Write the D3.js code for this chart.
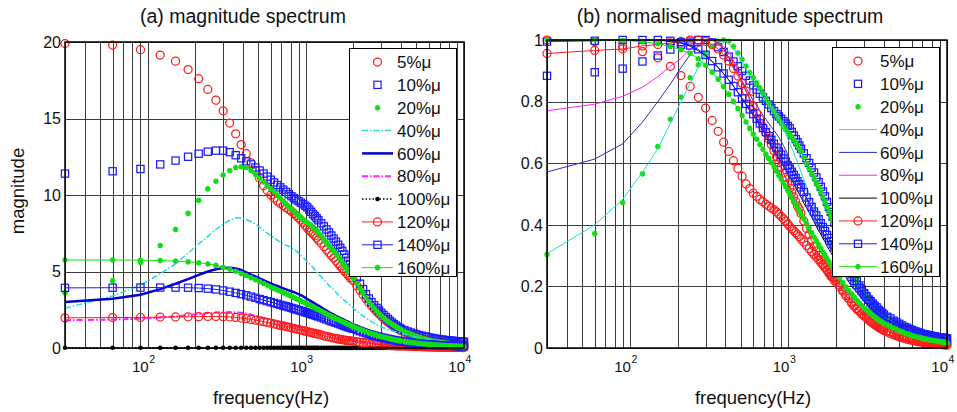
<!DOCTYPE html>
<html><head><meta charset="utf-8">
<script src="https://cdn.jsdelivr.net/npm/d3@7"></script>
<style>body{margin:0;background:#fff}svg{display:block;font-family:"Liberation Sans",Arial,Helvetica,sans-serif}</style>
</head><body><svg id="chart" width="957" height="412"></svg>
<script>
// ---------------- data ----------------
const freqs = [30,60,90,120,150,180,210,240,270,300,330,360,390,420,450,480,510,540,570,600,
  630,660,690,720,750,780,810,840,870,900,930,960,990,1020,1050,1080,1110,1140,1170,1200,
  1250,1300,1350,1400,1450,1500,1550,1600,1650,1700,1750,1800,1850,1900,1950,2000,
  2100,2200,2300,2400,2500,2600,2700,2800,2900,3000,3100,3200,3300,3400,3500,3600,3700,3800,3900,4000,
  4200,4400,4600,4800,5000,5200,5400,5600,5800,6000,6200,6400,6600,6800,7000,7200,7400,7600,7800,8000,8200,8400,8600,8800,9000,9200,9400,9600,9800,10000];

const mag5 = [19.9,19.8,19.5,19.15,18.75,18.2,17.6,16.9,16.2,15.5,14.7,14.0,13.3,12.7,12.1,11.6,11.1,10.6,10.3,10.0,
  9.8,9.6,9.45,9.3,9.17,9.05,8.93,8.8,8.65,8.5,8.35,8.2,8.02,7.85,7.7,7.58,7.45,7.33,7.2,7.05,
  6.85,6.63,6.42,6.22,6.05,5.88,5.7,5.52,5.36,5.2,5.05,4.9,4.75,4.61,4.5,4.4,
  4.07,3.77,3.48,3.22,2.98,2.76,2.56,2.38,2.22,2.07,1.94,1.81,1.7,1.6,1.5,1.42,1.34,1.26,1.19,1.13,
  1.03,0.94,0.86,0.79,0.72,0.67,0.62,0.57,0.53,0.5,0.47,0.44,0.41,0.39,0.37,0.35,0.33,0.31,0.3,0.28,0.27,0.26,0.25,0.24,0.23,0.22,0.21,0.2,0.19,0.18];
const mag10 = [11.4,11.55,11.7,12.0,12.25,12.5,12.7,12.83,12.9,12.9,12.8,12.6,12.4,12.2,12.0,11.8,11.6,11.4,11.2,11.0,
  10.82,10.65,10.5,10.35,10.2,10.05,9.92,9.8,9.7,9.6,9.5,9.4,9.3,9.2,9.05,8.9,8.75,8.62,8.48,8.35,
  8.15,7.95,7.75,7.55,7.35,7.15,6.95,6.75,6.55,6.35,6.12,5.9,5.7,5.5,5.25,5.0,
  4.6,4.2,3.85,3.52,3.24,3.0,2.8,2.62,2.45,2.3,2.16,2.02,1.9,1.78,1.66,1.56,1.47,1.39,1.32,1.25,
  1.16,1.08,1.01,0.95,0.89,0.84,0.8,0.76,0.72,0.69,0.66,0.63,0.61,0.59,0.57,0.55,0.53,0.52,0.5,0.49,0.48,0.47,0.46,0.45,0.44,0.43,0.42,0.42,0.41,0.4];
const mag20 = [3.6,4.4,5.6,6.7,7.75,8.8,9.65,10.4,10.9,11.3,11.6,11.8,11.85,11.8,11.6,11.35,11.1,10.85,10.6,10.4,
  10.2,10.0,9.8,9.6,9.42,9.25,9.1,8.95,8.8,8.65,8.52,8.4,8.3,8.2,8.1,8.01,7.91,7.8,7.68,7.55,
  7.33,7.1,6.9,6.7,6.52,6.35,6.18,6.0,5.8,5.6,5.42,5.25,5.07,4.9,4.72,4.55,
  4.22,3.9,3.6,3.3,3.04,2.8,2.6,2.42,2.25,2.1,1.97,1.85,1.74,1.65,1.56,1.48,1.4,1.33,1.26,1.2,
  1.09,1.0,0.92,0.84,0.77,0.71,0.65,0.6,0.56,0.52,0.49,0.46,0.43,0.4,0.38,0.36,0.35,0.33,0.32,0.3,0.29,0.28,0.27,0.26,0.25,0.24,0.23,0.22,0.22,0.21];
const mag40 = [2.6,3.4,4.1,4.85,5.5,6.2,6.8,7.3,7.75,8.1,8.35,8.5,8.5,8.4,8.25,8.1,7.9,7.7,7.5,7.35,
  7.2,7.05,6.92,6.8,6.72,6.65,6.55,6.45,6.33,6.2,6.06,5.92,5.78,5.65,5.52,5.39,5.26,5.13,4.99,4.85,
  4.65,4.45,4.27,4.1,3.95,3.8,3.65,3.5,3.37,3.25,3.12,3.0,2.9,2.8,2.7,2.6,
  2.42,2.25,2.1,1.95,1.83,1.72,1.62,1.52,1.45,1.38,1.32,1.27,1.22,1.17,1.13,1.1,1.06,1.02,0.99,0.95,
  0.9,0.85,0.8,0.76,0.72,0.68,0.65,0.62,0.59,0.56,0.54,0.51,0.49,0.47,0.45,0.44,0.42,0.41,0.39,0.38,0.37,0.36,0.35,0.34,0.33,0.32,0.32,0.31,0.3,0.3];
const mag60 = [3.0,3.22,3.48,3.85,4.2,4.5,4.78,5.0,5.15,5.22,5.25,5.2,5.1,4.95,4.8,4.68,4.55,4.43,4.32,4.22,
  4.13,4.05,3.97,3.9,3.83,3.77,3.71,3.65,3.59,3.52,3.45,3.38,3.29,3.2,3.13,3.05,2.98,2.91,2.84,2.78,
  2.66,2.55,2.45,2.35,2.26,2.18,2.1,2.03,1.96,1.9,1.84,1.78,1.72,1.66,1.6,1.55,
  1.46,1.37,1.29,1.22,1.15,1.09,1.03,0.98,0.93,0.89,0.85,0.81,0.77,0.74,0.71,0.68,0.65,0.63,0.6,0.58,
  0.54,0.51,0.48,0.45,0.42,0.4,0.38,0.36,0.34,0.32,0.31,0.29,0.28,0.27,0.25,0.25,0.24,0.23,0.22,0.21,0.21,0.2,0.2,0.19,0.19,0.19,0.18,0.18,0.17,0.17];
const mag80 = [1.81,1.86,1.92,1.99,2.07,2.15,2.21,2.28,2.32,2.34,2.35,2.33,2.3,2.26,2.19,2.11,2.03,1.96,1.89,1.83,
  1.77,1.72,1.67,1.62,1.57,1.53,1.49,1.45,1.41,1.37,1.33,1.3,1.26,1.23,1.2,1.17,1.14,1.11,1.08,1.05,
  1.0,0.96,0.92,0.88,0.84,0.81,0.77,0.74,0.71,0.68,0.65,0.63,0.6,0.58,0.55,0.53,
  0.49,0.46,0.43,0.4,0.37,0.35,0.32,0.3,0.28,0.27,0.25,0.24,0.23,0.21,0.2,0.19,0.18,0.18,0.17,0.16,
  0.15,0.14,0.13,0.12,0.11,0.105,0.1,0.095,0.09,0.085,0.082,0.078,0.075,0.072,0.07,0.068,0.066,0.064,0.062,0.06,0.059,0.058,0.057,0.056,0.055,0.054,0.053,0.052,0.051,0.05];
const mag100 = [0.02,0.02,0.02,0.02,0.02,0.0199,0.0198,0.0196,0.0193,0.019,0.0186,0.0182,0.0178,0.0174,0.017,0.0166,0.0162,0.0158,0.0154,0.0151,
  0.0148,0.0144,0.0141,0.0138,0.0135,0.0132,0.0129,0.0126,0.0123,0.0121,0.0118,0.0116,0.0113,0.0111,0.0109,0.0107,0.0104,0.0102,0.01,0.0098,
  0.0094,0.0091,0.0088,0.0085,0.0082,0.0079,0.0076,0.0074,0.0071,0.0069,0.0066,0.0064,0.0062,0.006,0.0058,0.0056,
  0.0052,0.0049,0.0046,0.0043,0.004,0.0038,0.0036,0.0034,0.0032,0.003,0.0029,0.0028,0.0026,0.0025,0.0024,0.0023,0.0022,0.0021,0.002,0.0019,
  0.0018,0.0017,0.0016,0.0015,0.0014,0.0014,0.0013,0.0012,0.0012,0.0011,0.0011,0.001,0.001,0.00097,0.00094,0.00091,0.00088,0.00086,0.00084,0.00082,0.0008,0.00078,0.00076,0.00074,0.00072,0.00071,0.0007,0.00069,0.00068,0.00067];
const mag120 = [1.97,1.99,2.0,2.02,2.03,2.04,2.05,2.06,2.06,2.05,2.03,2.0,1.96,1.92,1.87,1.82,1.77,1.72,1.67,1.62,
  1.57,1.53,1.48,1.44,1.4,1.36,1.32,1.28,1.24,1.21,1.17,1.14,1.1,1.07,1.04,1.01,0.98,0.95,0.93,0.9,
  0.85,0.8,0.76,0.72,0.68,0.65,0.62,0.59,0.56,0.54,0.52,0.5,0.48,0.47,0.45,0.44,
  0.41,0.38,0.35,0.33,0.3,0.28,0.26,0.25,0.23,0.22,0.21,0.2,0.18,0.17,0.16,0.155,0.145,0.138,0.131,0.125,
  0.116,0.108,0.1,0.093,0.087,0.082,0.077,0.072,0.068,0.064,0.061,0.058,0.055,0.053,0.05,0.048,0.046,0.045,0.043,0.041,0.04,0.039,0.038,0.037,0.036,0.035,0.034,0.033,0.032,0.031];
const mag140 = [3.93,3.94,3.95,3.95,3.95,3.94,3.92,3.88,3.83,3.76,3.68,3.6,3.52,3.44,3.36,3.28,3.2,3.13,3.06,3.0,
  2.94,2.88,2.82,2.77,2.72,2.67,2.62,2.57,2.52,2.48,2.43,2.39,2.34,2.3,2.26,2.22,2.18,2.14,2.1,2.06,
  2.0,1.93,1.87,1.81,1.75,1.7,1.65,1.6,1.55,1.5,1.45,1.41,1.37,1.33,1.29,1.25,
  1.17,1.1,1.03,0.97,0.91,0.86,0.81,0.77,0.73,0.69,0.66,0.62,0.6,0.57,0.54,0.52,0.49,0.47,0.45,0.43,
  0.4,0.38,0.35,0.33,0.31,0.29,0.27,0.26,0.24,0.23,0.22,0.21,0.2,0.19,0.18,0.175,0.17,0.165,0.16,0.155,0.15,0.145,0.14,0.135,0.13,0.13,0.125,0.125,0.12,0.12];
const mag160 = [5.75,5.75,5.74,5.72,5.68,5.63,5.57,5.5,5.4,5.28,5.15,5.02,4.88,4.74,4.6,4.47,4.34,4.22,4.1,3.99,
  3.9,3.8,3.71,3.62,3.54,3.46,3.38,3.3,3.22,3.15,3.08,3.01,2.94,2.87,2.81,2.74,2.68,2.62,2.56,2.5,
  2.41,2.32,2.23,2.15,2.07,2.0,1.93,1.86,1.79,1.73,1.67,1.61,1.55,1.5,1.45,1.4,
  1.31,1.22,1.14,1.07,1.01,0.95,0.89,0.84,0.79,0.75,0.71,0.68,0.64,0.61,0.58,0.55,0.52,0.5,0.48,0.46,
  0.43,0.4,0.37,0.35,0.32,0.3,0.28,0.26,0.25,0.23,0.22,0.21,0.2,0.19,0.18,0.17,0.165,0.16,0.15,0.145,0.14,0.135,0.13,0.125,0.12,0.115,0.11,0.108,0.104,0.1];

const seriesLabels = ["5%μ","10%μ","20%μ","40%μ","60%μ","80%μ","100%μ","120%μ","140%μ","160%μ"];
const seriesValues = [mag5,mag10,mag20,mag40,mag60,mag80,mag100,mag120,mag140,mag160];
const yTicksA = [0,5,10,15,20];
const yTicksB = [0,0.2,0.4,0.6,0.8,1];
const xTickExps = [2,3,4];
const titles = ["(a) magnitude spectrum","(b) normalised magnitude spectrum"];
const xLabel = "frequency(Hz)";
const yLabel = "magnitude";

// normalised spectrum: each series divided by its own maximum
const normValues = seriesValues.map(v => { const m = d3.max(v); return v.map(d => d / m); });

// ---------------- styles ----------------
const RED="#ff1c1c", BLUE="#1c1cff", GREEN="#14dc14", CYAN="#20dcdc", MAG="#ff20ff";
const stylesA = [
  {c:RED, m:"circle"}, {c:BLUE, m:"square"}, {c:GREEN, m:"star"},
  {c:CYAN, w:1.5, dash:"6,2,1.5,2"}, {c:"#0000d0", w:2.5}, {c:MAG, w:2, dash:"6,2,1.5,2"},
  {c:"#000", w:1.5, dash:"1.5,2", m:"dot"},
  {c:RED, w:1, m:"circle"}, {c:BLUE, w:1, m:"square"}, {c:GREEN, w:1, m:"star"}
];
const stylesB = [
  {c:RED, m:"circle"}, {c:BLUE, m:"square"}, {c:GREEN, m:"star"},
  {c:CYAN, w:1}, {c:"#2a2ac8", w:1}, {c:MAG, w:1}, {c:"#000", w:1},
  {c:RED, w:1, m:"circle"}, {c:BLUE, w:1, m:"square"}, {c:GREEN, w:1, m:"star"}
];

const svg = d3.select("#chart");
const STAR = "M-2.8,0H2.8M0,-2.8V2.8M-2,-2L2,2M-2,2L2,-2";
const MW = 1.25;

function marker(g, type, color, px, py){
  if(type==="circle") g.append("circle").attr("cx",px).attr("cy",py).attr("r",4)
      .attr("fill","none").attr("stroke",color).attr("stroke-width",MW);
  else if(type==="square") g.append("rect").attr("x",px-3.6).attr("y",py-3.6).attr("width",7.2).attr("height",7.2)
      .attr("fill","none").attr("stroke",color).attr("stroke-width",MW);
  else if(type==="star") g.append("path").attr("d",STAR).attr("transform",`translate(${px},${py})`)
      .attr("fill","none").attr("stroke",color).attr("stroke-width",1.6);
  else if(type==="dot") g.append("circle").attr("cx",px).attr("cy",py).attr("r",2.3).attr("fill",color);
}

function panel(cfg){
  const {x, y, values, styles, yTicks, tickFmt, title, titleX, yTickX, legend} = cfg;
  const g = svg.append("g");
  const [x0,x1] = x.range(), [y0,y1] = y.range();
  // grid
  const grid = g.append("g").attr("stroke","#3c3c3c").attr("stroke-width",1);
  x.ticks().forEach(t => { const px = Math.round(x(t))+0.5;
    grid.append("line").attr("x1",px).attr("x2",px).attr("y1",y1).attr("y2",y0); });
  yTicks.forEach(t => { const py = Math.round(y(t))+0.5;
    grid.append("line").attr("x1",x0).attr("x2",x1).attr("y1",py).attr("y2",py); });
  // data
  const line = d3.line().x(d => x(d[0])).y(d => y(d[1]));
  values.forEach((vals,i) => {
    const s = styles[i];
    const pts = freqs.map((f,j) => [f, vals[j]]);
    const sg = g.append("g");
    if(s.w) sg.append("path").attr("d", line(pts)).attr("fill","none").attr("stroke",s.c)
        .attr("stroke-width",s.w).attr("stroke-dasharray",s.dash||null);
    if(s.m) pts.forEach(p => marker(sg, s.m, s.c, x(p[0]), y(p[1])));
  });
  // frame
  g.append("rect").attr("x",x0).attr("y",y1).attr("width",x1-x0).attr("height",y0-y1)
    .attr("fill","none").attr("stroke","#000").attr("stroke-width",1.5);
  // y tick labels
  yTicks.forEach(t => g.append("text").attr("x",yTickX).attr("y",y(t)).attr("dy","0.36em")
    .attr("text-anchor","end").attr("font-size",16).attr("fill","#111").text(tickFmt(t)));
  // x tick labels 10^n
  xTickExps.forEach(e => {
    const px = x(Math.pow(10,e));
    g.append("text").attr("x",px+1).attr("y",372).attr("text-anchor","end")
      .attr("font-size",15).attr("fill","#111").text("10");
    g.append("text").attr("x",px+1.5).attr("y",363).attr("text-anchor","start")
      .attr("font-size",10.5).attr("fill","#111").text(String(e));
  });
  // titles & labels
  g.append("text").attr("x",titleX).attr("y",23).attr("text-anchor","middle")
    .attr("font-size",19.5).attr("fill","#111").text(title);
  g.append("text").attr("x",cfg.xLabelX).attr("y",404).attr("text-anchor","middle")
    .attr("font-size",18.5).attr("fill","#111").text(xLabel);
  // legend
  const L = legend;
  const lg = g.append("g");
  lg.append("rect").attr("x",L.x).attr("y",L.y).attr("width",L.w).attr("height",L.h)
    .attr("fill","#fff").attr("stroke","#000").attr("stroke-width",1);
  seriesLabels.forEach((lab,i) => {
    const s = styles[i], cy = L.y + 13.5 + i*22.85;
    if(s.w) lg.append("line").attr("x1",L.lx0).attr("x2",L.lx1).attr("y1",cy).attr("y2",cy)
      .attr("stroke",s.c).attr("stroke-width",s.w).attr("stroke-dasharray",s.dash||null);
    if(s.m) marker(lg, s.m, s.c, (L.lx0+L.lx1)/2, cy);
    lg.append("text").attr("x",L.tx).attr("y",cy).attr("dy","0.36em").attr("font-size",17)
      .attr("fill","#111").text(lab);
  });
}

// panel (a)
const xA = d3.scaleLog().domain([30,1e4]).range([65,464]);
const yA = d3.scaleLinear().domain([0,20]).range([348,42]);
panel({x:xA, y:yA, values:seriesValues, styles:stylesA, yTicks:yTicksA, tickFmt:d3.format("d"),
  title:titles[0], titleX:243, yTickX:61, xLabelX:271,
  legend:{x:349.5, y:48.5, w:107, h:228, lx0:362, lx1:393, tx:397}});
svg.append("text").attr("transform","translate(24,191) rotate(-90)").attr("text-anchor","middle")
  .attr("font-size",18.5).attr("fill","#111").text(yLabel);

// panel (b)
const xB = d3.scaleLog().domain([30,1e4]).range([547,947]);
const yB = d3.scaleLinear().domain([0,1]).range([348,40]);
panel({x:xB, y:yB, values:normValues, styles:stylesB, yTicks:yTicksB, tickFmt:d => d===0||d===1 ? String(d) : d3.format(".1f")(d),
  title:titles[1], titleX:730, yTickX:543, xLabelX:753,
  legend:{x:832.5, y:47.5, w:107, h:229, lx0:839, lx1:877, tx:880}});
</script></body></html>
